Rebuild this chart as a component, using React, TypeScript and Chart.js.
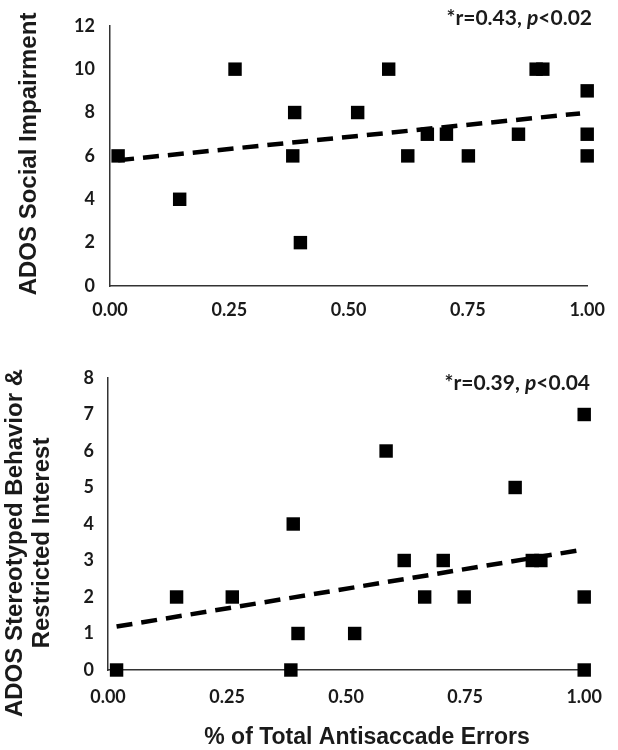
import React, { useEffect, useRef } from "react";
import { Chart, registerables } from "chart.js";

Chart.register(...registerables);

// ---- data ----
const errorRateTop = [0.017, 0.146, 0.262, 0.383, 0.387, 0.399, 0.519, 0.584, 0.624, 0.665, 0.705, 0.751, 0.856, 0.893, 0.907, 1.0, 1.0, 1.0];
const socialImpairment = [6, 4, 10, 6, 8, 2, 8, 10, 6, 7, 7, 6, 7, 10, 10, 9, 7, 6];

const errorRateBottom = [0.018, 0.144, 0.261, 0.384, 0.389, 0.399, 0.518, 0.584, 0.622, 0.665, 0.704, 0.748, 0.855, 0.891, 0.909, 1.0, 1.0, 1.0];
const stereotypedBehavior = [0, 2, 2, 0, 4, 1, 1, 6, 3, 2, 3, 2, 5, 3, 3, 7, 2, 0];

const trendTopX = [0.017, 0.985];
const trendTopY = [5.8, 7.96];
const trendBottomX = [0.018, 0.985];
const trendBottomY = [1.19, 3.27];

const xTickValues = [0, 0.25, 0.5, 0.75, 1];
const yTickValuesTop = [0, 2, 4, 6, 8, 10, 12];
const yTickValuesBottom = [0, 1, 2, 3, 4, 5, 6, 7, 8];

const yTitleTop = ["ADOS Social Impairment"];
const yTitleBottom = ["ADOS Stereotyped Behavior &", "Restricted Interest"];
const xTitle = "% of Total Antisaccade Errors";
const statTop = [
  { text: "*r=0.43, ", italic: false },
  { text: "p", italic: true },
  { text: "<0.02", italic: false },
];
const statBottom = [
  { text: "*r=0.39, ", italic: false },
  { text: "p", italic: true },
  { text: "<0.04", italic: false },
];

const TICK_FONT = "Lato, 'Open Sans', sans-serif";
const TITLE_FONT = "'Liberation Sans', Arial, sans-serif";
const INK = "#1a1a1a";

type Panel = {
  width: number;
  height: number;
  xs: number[];
  ys: number[];
  trendX: number[];
  trendY: number[];
  yMax: number;
  yTicks: number[];
  yTickDecimals: number;
  plotLeft: number;
  plotRight: number;
  plotTop: number;
  plotBottom: number;
  xTickPad: number;
  yTickPad: number;
  yTitle: string[];
  yTitleX: number;
  yTitleY: number;
  yTitleLine: number;
  stat: { text: string; italic: boolean }[];
  statRight: number;
  statY: number;
  xTitle?: string;
  xTitleX?: number;
  xTitleY?: number;
};

function drawStat(ctx: CanvasRenderingContext2D, parts: { text: string; italic: boolean }[], right: number, cy: number) {
  const size = 21;
  const fonts = parts.map((p) => `${p.italic ? "italic " : ""}bold ${size}px ${TICK_FONT}`);
  const widths = parts.map((p, i) => {
    ctx.font = fonts[i];
    return ctx.measureText(p.text).width;
  });
  const total = widths.reduce((a, b) => a + b, 0);
  let x = right - total;
  ctx.textBaseline = "middle";
  ctx.textAlign = "left";
  ctx.fillStyle = INK;
  parts.forEach((p, i) => {
    ctx.font = fonts[i];
    ctx.fillText(p.text, x, cy);
    x += widths[i];
  });
}

function ScatterPanel({ p }: { p: Panel }) {
  const ref = useRef<HTMLCanvasElement | null>(null);
  useEffect(() => {
    if (!ref.current) return;
    const textPlugin = {
      id: "panelTexts",
      afterDraw(chart: any) {
        const ctx: CanvasRenderingContext2D = chart.ctx;
        ctx.save();
        ctx.fillStyle = INK;
        ctx.font = `bold 24px ${TITLE_FONT}`;
        ctx.textAlign = "center";
        ctx.textBaseline = "middle";
        p.yTitle.forEach((line, i) => {
          ctx.save();
          ctx.translate(p.yTitleX + i * p.yTitleLine, p.yTitleY);
          ctx.rotate(-Math.PI / 2);
          ctx.fillText(line, 0, 0);
          ctx.restore();
        });
        if (p.xTitle) {
          ctx.font = `bold 23px ${TITLE_FONT}`;
          ctx.fillText(p.xTitle, p.xTitleX!, p.xTitleY!);
        }
        drawStat(ctx, p.stat, p.statRight, p.statY);
        ctx.restore();
      },
    };
    const chart = new Chart(ref.current, {
      type: "scatter",
      data: {
        datasets: [
          {
            type: "line",
            data: p.trendX.map((x, i) => ({ x, y: p.trendY[i] })),
            borderColor: "#000",
            borderWidth: 4.5,
            borderDash: [16, 9],
            pointRadius: 0,
            fill: false,
            clip: false,
          } as any,
          {
            data: p.xs.map((x, i) => ({ x, y: p.ys[i] })),
            pointStyle: "rect",
            pointRadius: 9.5,
            pointHoverRadius: 9.5,
            backgroundColor: "#000",
            borderWidth: 0,
            clip: false,
          } as any,
        ],
      },
      options: {
        responsive: false,
        animation: false,
        events: [],
        layout: {
          padding: {
            left: 0,
            top: p.plotTop,
            right: p.width - p.plotRight,
            bottom: 0,
          },
        },
        plugins: { legend: { display: false }, tooltip: { enabled: false }, title: { display: false } },
        scales: {
          x: {
            type: "linear",
            min: 0,
            max: 1,
            afterBuildTicks: (s: any) => {
              s.ticks = xTickValues.map((v) => ({ value: v }));
            },
            afterFit: (s: any) => {
              s.height = p.height - p.plotBottom;
            },
            grid: { display: false, drawTicks: false },
            border: { display: true, color: "#333", width: 1.5 },
            ticks: {
              color: INK,
              padding: p.xTickPad,
              maxRotation: 0,
              font: { family: TICK_FONT, size: 18, weight: "bold" },
              callback: (v: any) => Number(v).toFixed(2),
            },
          },
          y: {
            type: "linear",
            min: 0,
            max: p.yMax,
            afterBuildTicks: (s: any) => {
              s.ticks = p.yTicks.map((v) => ({ value: v }));
            },
            afterFit: (s: any) => {
              s.width = p.plotLeft;
            },
            grid: { display: false, drawTicks: false },
            border: { display: true, color: "#333", width: 1.5 },
            ticks: {
              color: INK,
              padding: p.yTickPad,
              font: { family: TICK_FONT, size: 18, weight: "bold" },
              callback: (v: any) => Number(v).toFixed(p.yTickDecimals),
            },
          },
        },
      },
      plugins: [textPlugin],
    } as any);
    return () => chart.destroy();
  }, [p]);
  return <canvas ref={ref} width={p.width} height={p.height} style={{ display: "block" }} />;
}

const topPanel: Panel = {
  width: 618,
  height: 330,
  xs: errorRateTop,
  ys: socialImpairment,
  trendX: trendTopX,
  trendY: trendTopY,
  yMax: 12,
  yTicks: yTickValuesTop,
  yTickDecimals: 0,
  plotLeft: 110,
  plotRight: 595,
  plotTop: 12,
  plotBottom: 286,
  xTickPad: 13,
  yTickPad: 15,
  yTitle: yTitleTop,
  yTitleX: 29,
  yTitleY: 154,
  yTitleLine: 27,
  stat: statTop,
  statRight: 592,
  statY: 18,
};

const bottomPanel: Panel = {
  width: 618,
  height: 420,
  xs: errorRateBottom,
  ys: stereotypedBehavior,
  trendX: trendBottomX,
  trendY: trendBottomY,
  yMax: 8,
  yTicks: yTickValuesBottom,
  yTickDecimals: 0,
  plotLeft: 108,
  plotRight: 589,
  plotTop: 48,
  plotBottom: 340,
  xTickPad: 16,
  yTickPad: 14,
  yTitle: yTitleBottom,
  yTitleX: 15,
  yTitleY: 213,
  yTitleLine: 27,
  stat: statBottom,
  statRight: 590,
  statY: 53,
  xTitle: xTitle,
  xTitleX: 367,
  xTitleY: 408,
};

export default function App() {
  return (
    <div style={{ position: "absolute", left: 0, top: 0, width: 618, height: 750, background: "#fff" }}>
      <ScatterPanel p={topPanel} />
      <ScatterPanel p={bottomPanel} />
    </div>
  );
}
